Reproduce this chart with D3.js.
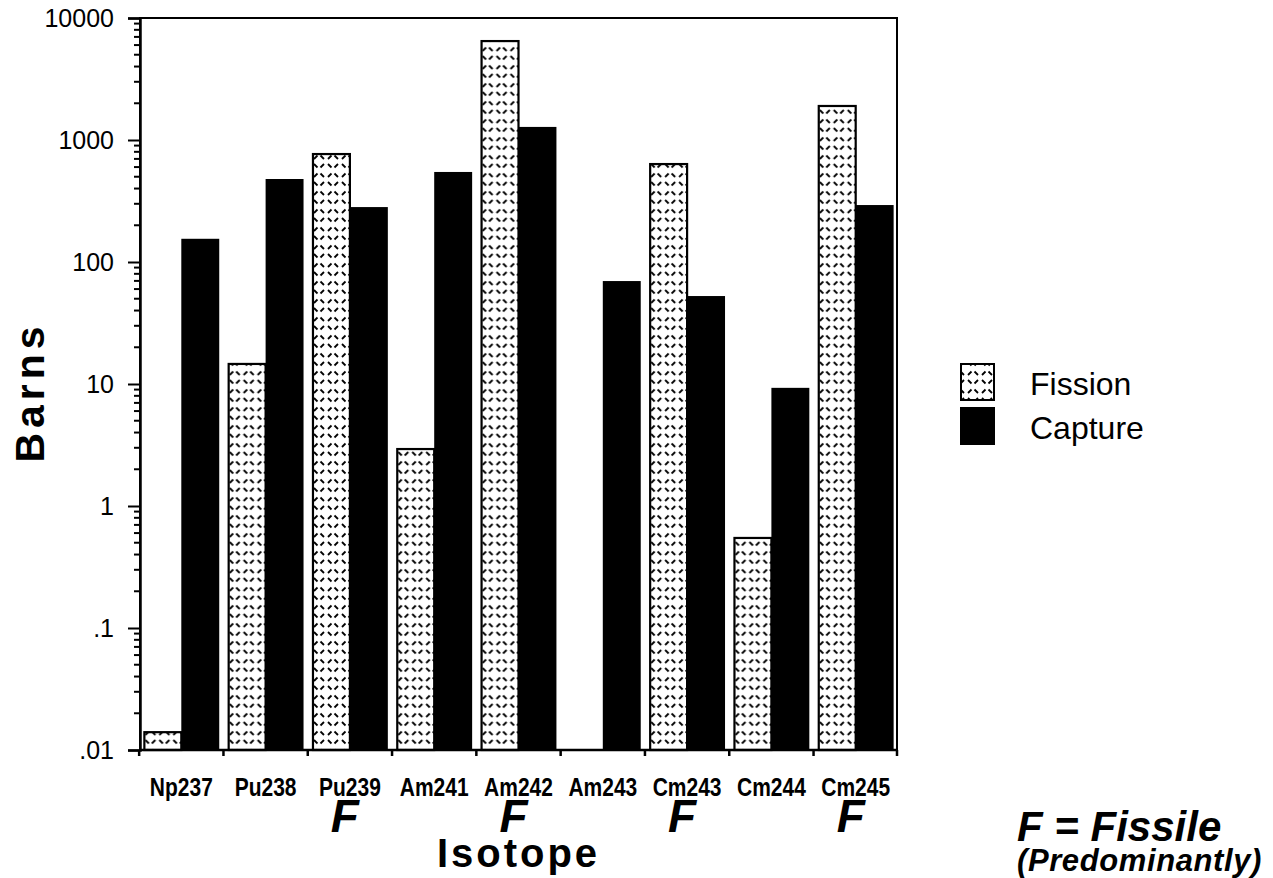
<!DOCTYPE html>
<html>
<head>
<meta charset="utf-8">
<script src="https://cdn.jsdelivr.net/npm/d3@7"></script>
<style>
  html, body { margin: 0; padding: 0; background: #fff; }
  svg { display: block; }
</style>
</head>
<body>
<svg id="chart" width="1273" height="878"></svg>
<script>
// ---- data ----
const isotopes = ["Np237", "Pu238", "Pu239", "Am241", "Am242", "Am243", "Cm243", "Cm244", "Cm245"];
const fissionValues = [0.014, 14.6, 767, 2.93, 6470, null, 635, 0.547, 1900];
const captureValues = [155, 479, 282, 547, 1280, 69.8, 52.6, 9.3, 293];
const fissile = ["Pu239", "Am242", "Cm243", "Cm245"];
const seriesNames = ["Fission", "Capture"];
const yTickValues = [0.01, 0.1, 1, 10, 100, 1000, 10000];
const yTickLabels = [".01", ".1", "1", "10", "100", "1000", "10000"];

// ---- layout ----
const svg = d3.select("#chart");
const pL = 140, pR = 897, pT = 18, pB = 750;

const x = d3.scaleBand().domain(isotopes).range([pL, pR])
  .paddingInner(0.1).paddingOuter(0.04);
const x1 = d3.scaleBand().domain(seriesNames).range([0, x.bandwidth()]);
const y = d3.scaleLog().domain([0.01, 10000]).range([pB, pT]);

// pattern for fission
const defs = svg.append("defs");
const pat = defs.append("pattern").attr("id", "fissionPat")
  .attr("patternUnits", "userSpaceOnUse").attr("width", 14).attr("height", 18)
  .attr("x", 0).attr("y", 0);
pat.append("rect").attr("width", 14).attr("height", 18).attr("fill", "#fff");
const dashes = [[2,2,5.5,5.5],[8.5,5.5,12,2],[2,15,5.5,11.5],[8.5,11.5,12,15]];
dashes.forEach(d => pat.append("line")
  .attr("x1", d[0]).attr("y1", d[1]).attr("x2", d[2]).attr("y2", d[3])
  .attr("stroke", "#000").attr("stroke-width", 1.8).attr("stroke-linecap", "butt"));

// bars
const rows = isotopes.map((iso, i) => ({iso, Fission: fissionValues[i], Capture: captureValues[i]}));
const groups = svg.append("g").selectAll("g").data(rows).join("g")
  .attr("transform", d => `translate(${x(d.iso)},0)`);

groups.selectAll("rect.cap").data(d => [d.Capture]).join("rect")
  .attr("class", "cap")
  .attr("x", x1("Capture")).attr("width", x1.bandwidth())
  .attr("y", v => y(v)).attr("height", v => pB - y(v))
  .attr("fill", "#000");

groups.selectAll("rect.fis").data(d => d.Fission == null ? [] : [d.Fission]).join("rect")
  .attr("class", "fis")
  .attr("x", x1("Fission") + 1).attr("width", x1.bandwidth() - 1)
  .attr("y", v => y(v)).attr("height", v => pB - y(v))
  .attr("fill", "url(#fissionPat)").attr("stroke", "#000").attr("stroke-width", 2.2);

// frame
svg.append("rect").attr("x", pL).attr("y", pT)
  .attr("width", pR - pL).attr("height", pB - pT)
  .attr("fill", "none").attr("stroke", "#000").attr("stroke-width", 2);

// y axis
const yAxis = d3.axisLeft(y).tickValues(yTickValues)
  .tickFormat((d, i) => yTickLabels[i]).tickSize(12).tickPadding(14);
const gy = svg.append("g").attr("transform", `translate(${pL},0)`).call(yAxis);
gy.select(".domain").attr("stroke-width", 2.5);
gy.selectAll(".tick line").attr("stroke-width", 2);
gy.selectAll(".tick text").attr("font-family", "Liberation Sans, Arial, sans-serif")
  .attr("font-size", 25).attr("fill", "#000");

// minor ticks
const minor = [];
for (let e = -2; e < 4; e++) for (let m = 2; m <= 9; m++) minor.push(m * Math.pow(10, e));
svg.append("g").selectAll("line").data(minor).join("line")
  .attr("x1", pL - 6).attr("x2", pL)
  .attr("y1", d => y(d)).attr("y2", d => y(d))
  .attr("stroke", "#000").attr("stroke-width", 2);

// x axis ticks at category boundaries
const step = x.step();
const bounds = isotopes.map(d => x(d) - step * x.paddingInner() / 2).concat([pR]);
svg.append("g").selectAll("line").data(bounds).join("line")
  .attr("x1", d => d).attr("x2", d => d)
  .attr("y1", pB).attr("y2", pB + 6)
  .attr("stroke", "#000").attr("stroke-width", 2.5);
svg.append("line").attr("x1", pL).attr("x2", pR).attr("y1", pB).attr("y2", pB)
  .attr("stroke", "#000").attr("stroke-width", 2.5);

// x labels (condensed bold)
svg.append("g").selectAll("text").data(isotopes).join("text")
  .attr("transform", d => `translate(${x(d) + x.bandwidth() / 2},796) scale(0.84,1)`)
  .attr("text-anchor", "middle")
  .attr("font-family", "Liberation Sans, Arial, sans-serif")
  .attr("font-weight", "bold").attr("font-size", 25)
  .text(d => d);

// F marks
svg.append("g").selectAll("text").data(fissile).join("text")
  .attr("x", d => x(d) + x.bandwidth() / 2 - 5).attr("y", 832)
  .attr("text-anchor", "middle")
  .attr("font-family", "Liberation Sans, Arial, sans-serif")
  .attr("font-weight", "bold").attr("font-style", "italic").attr("font-size", 46)
  .text("F");

// axis titles
svg.append("text").attr("x", (pL + pR) / 2).attr("y", 867)
  .attr("text-anchor", "middle")
  .attr("font-family", "Liberation Sans, Arial, sans-serif")
  .attr("font-weight", "bold").attr("font-size", 40).attr("letter-spacing", 3)
  .text("Isotope");

svg.append("text").attr("transform", `translate(44,392) rotate(-90)`)
  .attr("text-anchor", "middle")
  .attr("font-family", "Liberation Sans, Arial, sans-serif")
  .attr("font-weight", "bold").attr("font-size", 41).attr("letter-spacing", 5)
  .text("Barns");

// legend
const legend = svg.append("g");
seriesNames.forEach((s, i) => {
  const ly = 364 + i * 44;
  legend.append("rect").attr("x", 961).attr("y", ly).attr("width", 33).attr("height", 36)
    .attr("fill", s === "Fission" ? "url(#fissionPat)" : "#000")
    .attr("stroke", "#000").attr("stroke-width", 2);
  legend.append("text").attr("x", 1030).attr("y", ly + 31)
    .attr("font-family", "Liberation Sans, Arial, sans-serif")
    .attr("font-size", 32).text(s);
});

// note
svg.append("text").attr("x", 1017).attr("y", 841)
  .attr("font-family", "Liberation Sans, Arial, sans-serif")
  .attr("font-weight", "bold").attr("font-style", "italic").attr("font-size", 42)
  .text("F = Fissile");
svg.append("text").attr("x", 1017).attr("y", 871)
  .attr("font-family", "Liberation Sans, Arial, sans-serif")
  .attr("font-weight", "bold").attr("font-style", "italic").attr("font-size", 31)
  .attr("letter-spacing", 0.6)
  .text("(Predominantly)");
</script>
</body>
</html>
